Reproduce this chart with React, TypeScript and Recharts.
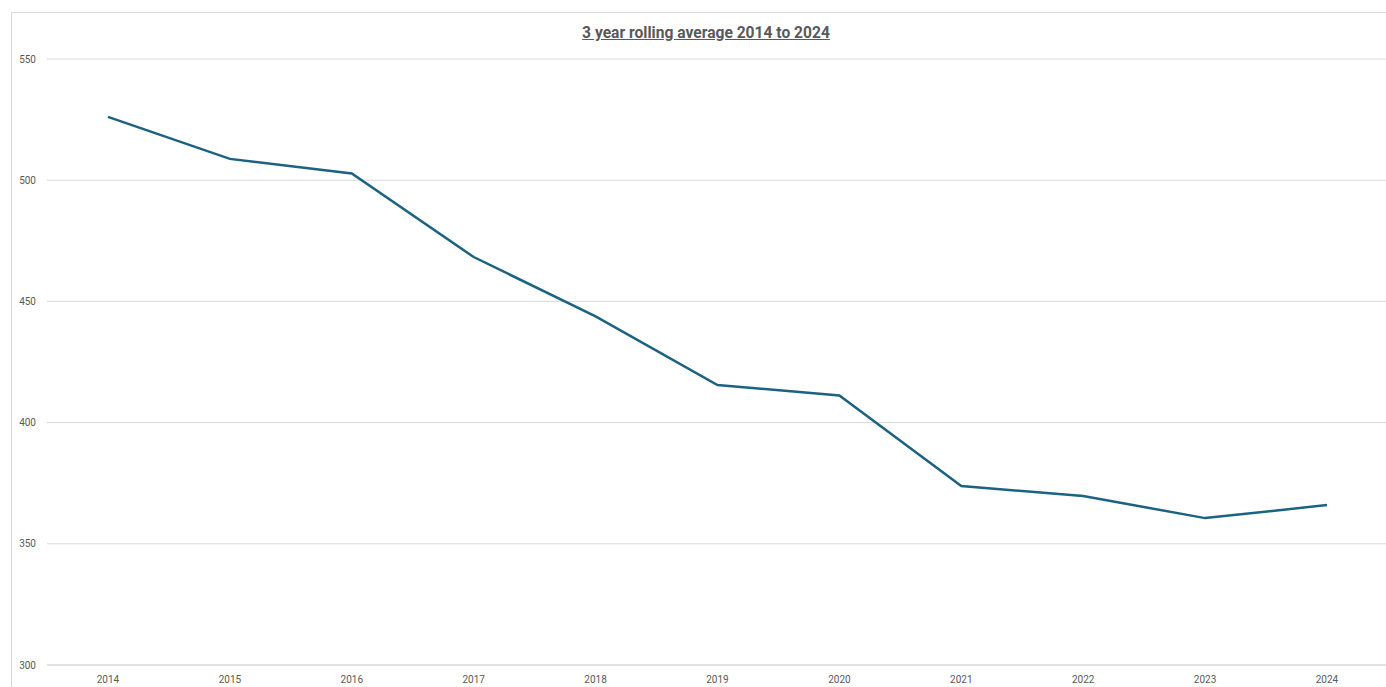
import { LineChart, Line, XAxis, YAxis, CartesianGrid } from "recharts";

const years = ["2014", "2015", "2016", "2017", "2018", "2019", "2020", "2021", "2022", "2023", "2024"];
const rollingAverage = [526.1, 508.8, 502.8, 468.3, 443.8, 415.5, 411.2, 373.8, 369.7, 360.6, 366.0];
const yTicks = [300, 350, 400, 450, 500, 550];

const data = years.map((year, i) => ({ year, value: rollingAverage[i] }));

const GRID = "#d9d9d9";
const TEXT = "#595959";

export default function App() {
  return (
    <div
      style={{
        position: "absolute",
        left: 0,
        top: 0,
        width: 1386,
        height: 687,
        overflow: "hidden",
        background: "#fff",
        fontFamily: "Roboto, 'Open Sans', sans-serif",
      }}
    >
      <div
        style={{
          position: "absolute",
          left: 11,
          top: 12,
          width: 1400,
          height: 700,
          border: `1px solid ${GRID}`,
        }}
      />
      <div
        style={{
          position: "absolute",
          left: 0,
          top: 24,
          width: 1412,
          textAlign: "center",
          fontSize: 15.6,
          fontWeight: 700,
          color: TEXT,
          textDecoration: "underline",
        }}
      >
        3 year rolling average 2014 to 2024
      </div>
      <div style={{ position: "absolute", left: 0, top: 0 }}>
        <LineChart width={1388} height={687} data={data} margin={{ top: 59, right: 0, bottom: 0, left: 0 }}>
          <CartesianGrid vertical={false} stroke={GRID} />
          <XAxis
            dataKey="year"
            height={22}
            padding={{ left: 61, right: 61 }}
            axisLine={{ stroke: GRID }}
            tickLine={false}
            tickSize={0}
            tickMargin={11}
            tick={{ fill: TEXT, fontSize: 10 }}
            interval={0}
          />
          <YAxis
            width={47}
            domain={[300, 550]}
            ticks={yTicks}
            axisLine={false}
            tickLine={false}
            tickSize={0}
            tickMargin={11}
            tick={{ fill: TEXT, fontSize: 10 }}
          />
          <Line
            type="linear"
            dataKey="value"
            stroke="#1b6283"
            strokeWidth={2.5}
            dot={false}
            activeDot={false}
            isAnimationActive={false}
          />
        </LineChart>
      </div>
    </div>
  );
}
